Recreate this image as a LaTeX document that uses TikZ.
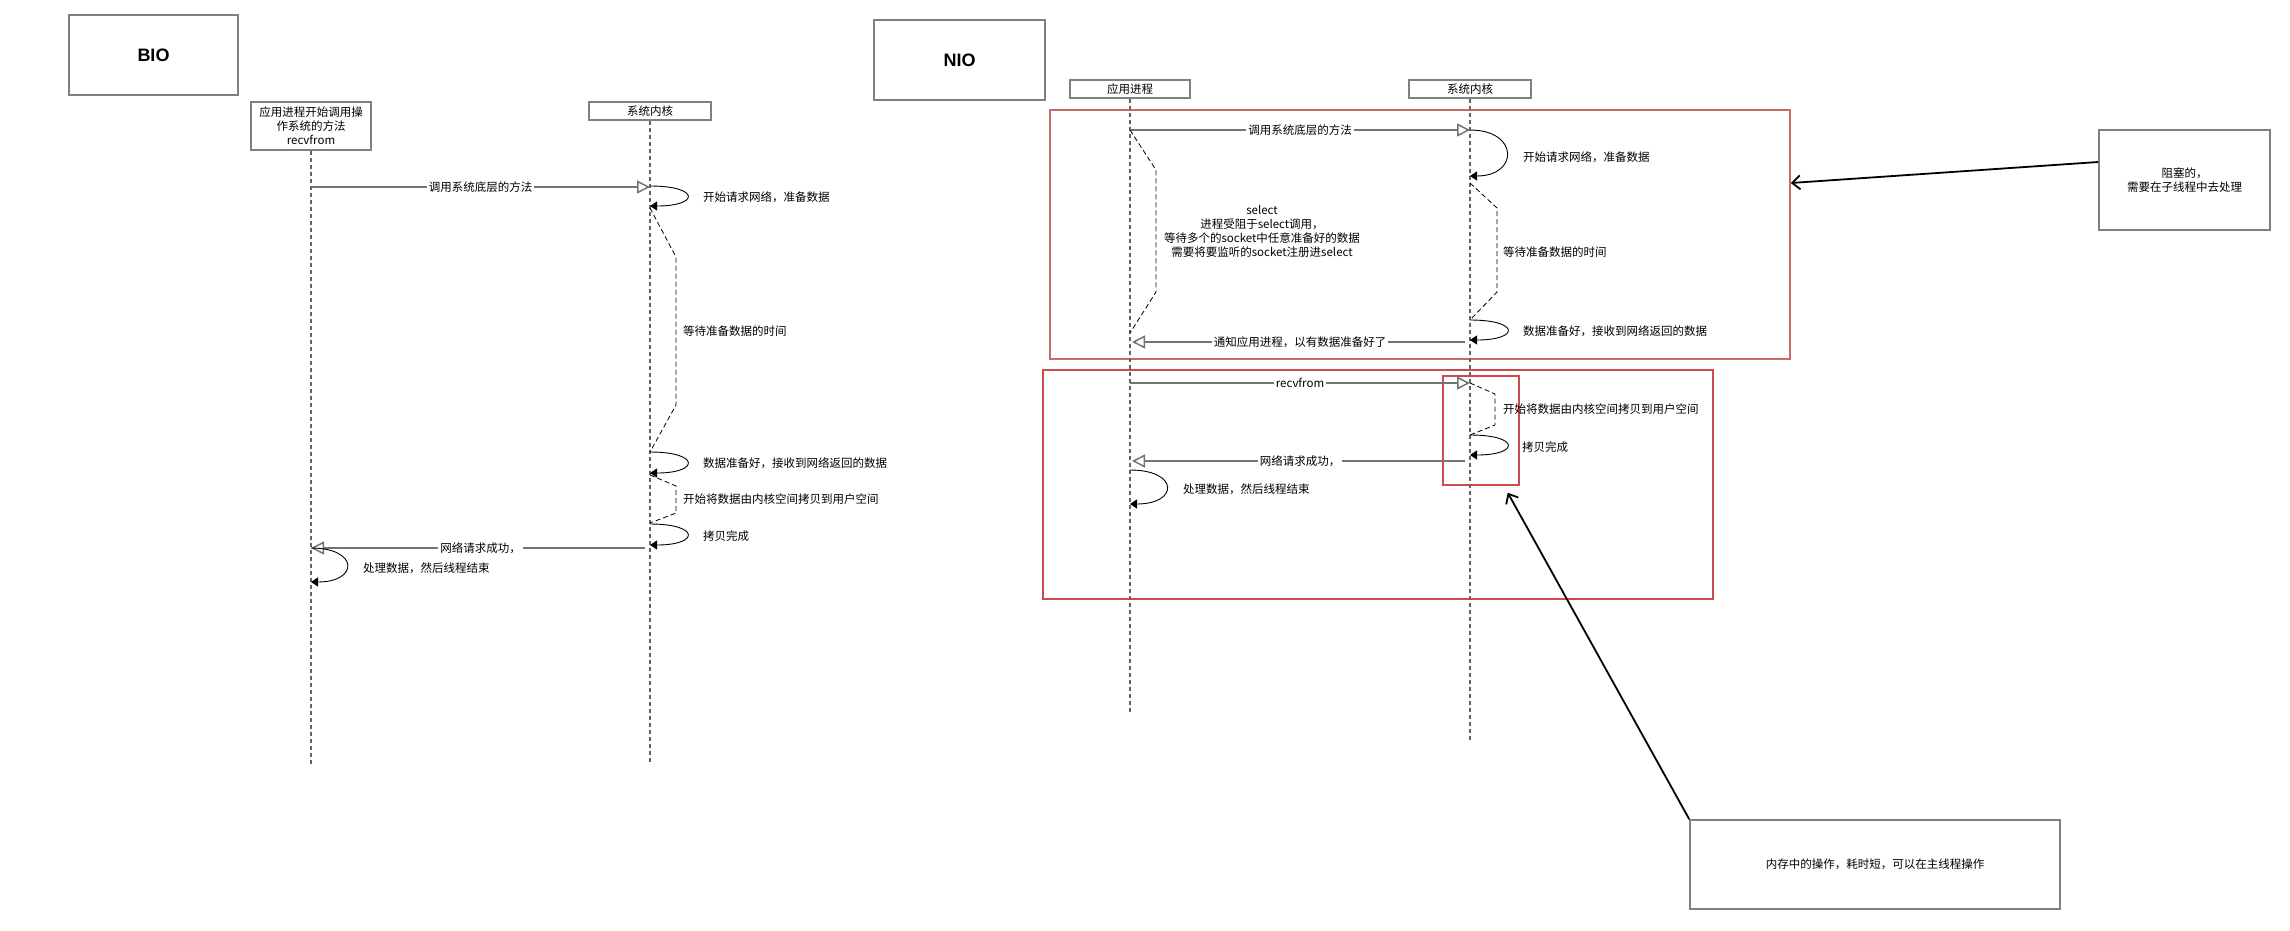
\documentclass[tikz,border=0pt]{standalone}
\usepackage{fontspec}
\setmainfont{Noto Sans CJK SC}
\newfontfamily\titlefont{Liberation Sans}
\usetikzlibrary{arrows.meta}

\definecolor{boxgray}{RGB}{128,128,128}
\definecolor{msggray}{RGB}{115,115,115}
\definecolor{lifegray}{RGB}{100,100,100}
\definecolor{blockred}{RGB}{200,105,105}
\definecolor{fastred}{RGB}{205,75,75}

\tikzset{
  txt/.style={font=\fontsize{11.5}{14}\selectfont, inner sep=1pt},
  titlebox/.style={draw=boxgray, line width=1.5pt, inner sep=0pt, font=\titlefont\bfseries\fontsize{18}{20}\selectfont},
  head/.style={draw=boxgray, line width=1.2pt, txt, inner sep=2pt, align=center},
  life/.style={draw=lifegray, line width=1.1pt, dash pattern=on 4pt off 3pt},
  msg/.style={draw=msggray, line width=1.5pt, -{Triangle[open, length=13pt, width=13pt]}},
  msglbl/.style={txt, fill=white, inner sep=2pt},
  selfloop/.style={draw=black, line width=0.9pt, -{Triangle[length=7pt, width=9pt]}},
  act/.style={draw=black, line width=0.8pt, dash pattern=on 5pt off 3pt},
  blockbox/.style={draw=blockred, line width=1.5pt, inner sep=0pt},
  fastbox/.style={draw=fastred, line width=1.5pt, inner sep=0pt},
  notebox/.style={draw=boxgray, line width=1.5pt, txt, align=center},
  pointer/.style={draw=black, line width=1.8pt, -{Straight Barb[length=8pt, width=14pt]}},
}

\begin{document}
\begin{tikzpicture}[x=1pt, y=-1pt]
  \useasboundingbox (0,0) rectangle (2290,930);

  % ---------------- BIO ----------------
  \node[titlebox, minimum width=169pt, minimum height=80pt] (bio) at (153.5,55) {BIO};
  \node[head, minimum width=120pt, minimum height=48pt] (bapp) at (311,126) {应用进程开始调用操\\作系统的方法\\recvfrom};
  \node[head, minimum width=122pt, minimum height=18pt] (bker) at (650,111) {系统内核};
  \draw[life] (bapp.south) -- (bapp.south |- 0,764);
  \draw[life] (bker.south) -- (bker.south |- 0,764);

  % call down
  \draw[msg] (bapp.south |- 0,187) -- node[msglbl] (bm1) {调用系统底层的方法} (bker.south |- 0,187);
  \draw[selfloop] (bker.south |- 0,186) .. controls +(50,0) and +(50,0) .. (bker.south |- 0,206);
  \node[txt, anchor=west] (bl1) at (702,197) {开始请求网络，准备数据};

  % waiting
  \draw[act] (bker.south |- 0,208) -- (676,257) -- (676,405) -- (bker.south |- 0,452);
  \node[txt, anchor=west] (bw1) at (682,331) {等待准备数据的时间};
  \draw[selfloop] (bker.south |- 0,452) .. controls +(50,0) and +(50,0) .. (bker.south |- 0,473);
  \node[txt, anchor=west] (bl2) at (702,463) {数据准备好，接收到网络返回的数据};

  % copying
  \draw[act] (bker.south |- 0,475) -- (676,486) -- (676,513) -- (bker.south |- 0,523);
  \node[txt, anchor=west] (bw2) at (682,499) {开始将数据由内核空间拷贝到用户空间};
  \draw[selfloop] (bker.south |- 0,524) .. controls +(50,0) and +(50,0) .. (bker.south |- 0,545);
  \node[txt, anchor=west] (bl3) at (702,536) {拷贝完成};

  % back to the process
  \draw[msg, shorten <=5pt] (bker.south |- 0,548) -- node[msglbl] (bm2) {网络请求成功，} (bapp.south |- 0,548);
  \draw[selfloop] (bapp.south |- 0,548) .. controls +(48,0) and +(48,0) .. (bapp.south |- 0,582);
  \node[txt, anchor=west] (bl4) at (362,568) {处理数据，然后线程结束};

  % ---------------- NIO ----------------
  \node[titlebox, minimum width=171pt, minimum height=80pt] (nio) at (959.5,60) {NIO};
  \node[blockbox, minimum width=740pt, minimum height=249pt] (blocking) at (1420,234.5) {};
  \node[fastbox, minimum width=670pt, minimum height=229pt] (copying) at (1378,484.5) {};
  \node[fastbox, minimum width=76pt, minimum height=109pt] (copybox) at (1481,430.5) {};
  \node[head, minimum width=120pt, minimum height=18pt] (napp) at (1130,89) {应用进程};
  \node[head, minimum width=122pt, minimum height=18pt] (nker) at (1470,89) {系统内核};
  \draw[life] (napp.south) -- (napp.south |- 0,712);
  \draw[life] (nker.south) -- (nker.south |- 0,740);

  % select
  \draw[msg] (napp.south |- 0,130) -- node[msglbl] (nm1) {调用系统底层的方法} (nker.south |- 0,130);
  \draw[act] (napp.south |- 0,130) -- (1156,170) -- (1156,292) -- (napp.south |- 0,333);
  \node[txt, align=center] (nsel) at (1262,231) {select\\进程受阻于select调用，\\等待多个的socket中任意准备好的数据\\需要将要监听的socket注册进select};
  \draw[selfloop] (nker.south |- 0,130) .. controls +(49,0) and +(49,0) .. (nker.south |- 0,176);
  \node[txt, anchor=west] (nl1) at (1522,157) {开始请求网络，准备数据};
  \draw[act] (nker.south |- 0,183) -- (1497,208) -- (1497,292) -- (nker.south |- 0,320);
  \node[txt, anchor=west] (nw1) at (1502,252) {等待准备数据的时间};
  \draw[selfloop] (nker.south |- 0,320) .. controls +(50,0) and +(50,0) .. (nker.south |- 0,340);
  \node[txt, anchor=west] (nl2) at (1522,331) {数据准备好，接收到网络返回的数据};
  \draw[msg, shorten <=5pt, shorten >=2pt] (nker.south |- 0,342) -- node[msglbl] (nm2) {通知应用进程，以有数据准备好了} (napp.south |- 0,342);

  % recvfrom
  \draw[msg] (napp.south |- 0,383) -- node[msglbl] (nm3) {recvfrom} (nker.south |- 0,383);
  \draw[act] (nker.south |- 0,383) -- (1495,394) -- (1495,425) -- (nker.south |- 0,435);
  \node[txt, anchor=west] (nw2) at (1502,409) {开始将数据由内核空间拷贝到用户空间};
  \draw[selfloop] (nker.south |- 0,435) .. controls +(50,0) and +(50,0) .. (nker.south |- 0,455);
  \node[txt, anchor=west] (nl3) at (1521,447) {拷贝完成};
  \draw[msg, shorten <=5pt, shorten >=2pt] (nker.south |- 0,461) -- node[msglbl] (nm4) {网络请求成功，} (napp.south |- 0,461);
  \draw[selfloop] (napp.south |- 0,470) .. controls +(49,0) and +(49,0) .. (napp.south |- 0,504);
  \node[txt, anchor=west] (nl4) at (1182,489) {处理数据，然后线程结束};

  % notes
  \node[notebox, minimum width=171pt, minimum height=100pt] (note1) at (2184.5,180) {阻塞的，\\需要在子线程中去处理};
  \node[notebox, minimum width=370pt, minimum height=89pt] (note2) at (1875,864.5) {内存中的操作，耗时短，可以在主线程操作};
  \coordinate (copytip) at ([shift={(-12,7)}]copybox.south east);
  \draw[pointer] (note1.west |- 0,162) -- (blocking.east |- 0,183);
  \draw[pointer] (note2.north west) -- (copytip);
\end{tikzpicture}
\end{document}
